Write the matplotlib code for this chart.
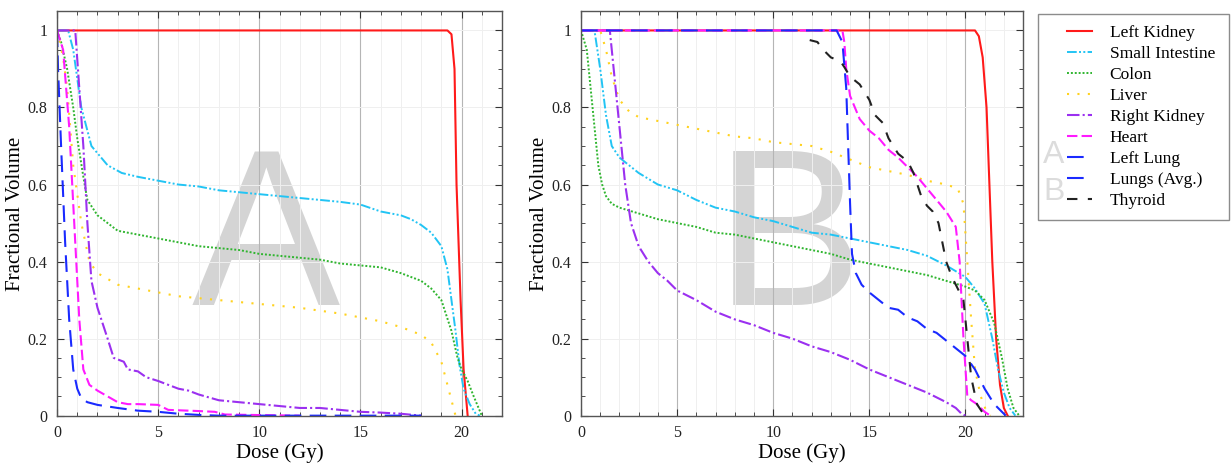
import numpy as np
import matplotlib
matplotlib.use("Agg")
import matplotlib.pyplot as plt
from matplotlib.ticker import MultipleLocator, FuncFormatter
from matplotlib.patches import Rectangle

plt.rcParams['font.family'] = ['Liberation Serif', 'DejaVu Serif']

# ---- Panel A (dose in Gy, fractional volume) ----
a_kidney_l_x = [0, 19.3, 19.5, 19.65, 19.75, 19.95, 20.1, 20.3]
a_kidney_l_y = [1, 1, 0.99, 0.9, 0.6, 0.3, 0.12, 0]

a_intest_x = [0, 0.55, 0.8, 1.2, 1.7, 2.5, 3.2, 4, 5, 6, 7, 8, 9, 10, 11, 12, 13, 14, 15, 16, 17,
              17.5, 18, 18.5, 19, 19.3, 19.5, 19.7, 19.9, 20.1, 20.4, 20.7, 20.9]
a_intest_y = [1, 1, 0.95, 0.8, 0.7, 0.65, 0.63, 0.62, 0.61, 0.6, 0.595, 0.585, 0.58, 0.575, 0.57,
              0.565, 0.56, 0.555, 0.548, 0.53, 0.52, 0.51, 0.495, 0.475, 0.44, 0.38, 0.3, 0.22,
              0.13, 0.07, 0.03, 0.005, 0]

a_colon_x = [0, 0.2, 0.5, 0.8, 1.0, 1.3, 1.5, 2, 2.5, 3, 4, 5, 6, 7, 8, 9, 10, 11, 12, 13, 14, 15,
             16, 17, 18, 18.5, 19, 19.5, 19.8, 20, 20.3, 20.6, 21]
a_colon_y = [1, 0.97, 0.9, 0.8, 0.72, 0.62, 0.56, 0.52, 0.5, 0.48, 0.47, 0.46, 0.45, 0.44, 0.435,
             0.43, 0.42, 0.415, 0.41, 0.405, 0.395, 0.39, 0.385, 0.37, 0.35, 0.33, 0.3, 0.22, 0.15,
             0.12, 0.09, 0.05, 0]

a_liver_x = [0, 0.3, 0.5, 0.8, 1.2, 1.6, 2, 3, 4, 5, 6, 7, 8, 9, 10, 12, 14, 15, 16, 17, 18, 18.5,
             19, 19.3, 19.6, 19.7]
a_liver_y = [1, 0.93, 0.85, 0.65, 0.5, 0.4, 0.37, 0.34, 0.33, 0.32, 0.31, 0.305, 0.3, 0.295, 0.29,
             0.28, 0.265, 0.255, 0.245, 0.23, 0.21, 0.19, 0.14, 0.08, 0.02, 0]

a_kidney_r_x = [0, 0.9, 1.1, 1.3, 1.5, 1.7, 2, 2.5, 2.8, 3.3, 3.5, 4, 4.4, 5, 5.5, 6, 6.5, 7, 8, 9,
                10, 11, 12, 13, 14, 15, 16, 17, 18]
a_kidney_r_y = [1, 1, 0.85, 0.7, 0.5, 0.35, 0.28, 0.2, 0.15, 0.14, 0.12, 0.115, 0.1, 0.09, 0.08,
                0.07, 0.065, 0.055, 0.04, 0.035, 0.03, 0.025, 0.02, 0.02, 0.015, 0.01, 0.008, 0.005, 0]

a_heart_x = [0, 0.3, 0.6, 0.9, 1.1, 1.3, 1.6, 2, 2.5, 3, 3.5, 4, 5, 5.5, 7, 7.8, 8.3, 12]
a_heart_y = [1, 0.95, 0.75, 0.45, 0.25, 0.12, 0.08, 0.065, 0.05, 0.035, 0.03, 0.03, 0.028, 0.015,
             0.012, 0.01, 0.003, 0]

a_lung_x = [0, 0.05, 0.2, 0.4, 0.6, 0.8, 1, 1.2, 1.5, 2, 3, 4, 5, 6, 7, 8, 18]
a_lung_y = [1, 0.9, 0.7, 0.45, 0.25, 0.12, 0.07, 0.045, 0.035, 0.028, 0.02, 0.013, 0.01, 0.005,
            0.002, 0, 0]

# ---- Panel B ----
b_kidney_l_x = [0, 20.5, 20.7, 20.9, 21.1, 21.25, 21.4, 21.6, 21.8, 22, 22.2]
b_kidney_l_y = [1, 1, 0.985, 0.93, 0.8, 0.6, 0.4, 0.2, 0.08, 0.02, 0]

b_intest_x = [0, 0.7, 1, 1.3, 1.6, 2, 3, 4, 5, 6, 7, 8, 9, 10, 11, 12, 13, 14, 15, 16, 17, 18, 19,
              19.5, 20, 20.5, 21, 21.4, 21.7, 22, 22.3, 22.6]
b_intest_y = [1, 1, 0.9, 0.78, 0.7, 0.67, 0.63, 0.6, 0.585, 0.56, 0.54, 0.53, 0.515, 0.505, 0.49,
              0.475, 0.47, 0.46, 0.45, 0.44, 0.43, 0.415, 0.39, 0.375, 0.36, 0.33, 0.29, 0.2, 0.12,
              0.06, 0.02, 0]

b_colon_x = [0, 0.3, 0.5, 0.7, 0.9, 1.1, 1.3, 1.6, 2, 3, 4, 5, 6, 7, 8, 9, 10, 11, 12, 13, 14, 15,
             16, 17, 18, 19, 20, 20.5, 21, 21.5, 21.9, 22.2, 22.5, 22.8]
b_colon_y = [1, 0.95, 0.85, 0.75, 0.65, 0.6, 0.57, 0.55, 0.54, 0.525, 0.51, 0.5, 0.49, 0.475, 0.47,
             0.46, 0.45, 0.44, 0.43, 0.42, 0.405, 0.395, 0.385, 0.375, 0.365, 0.35, 0.335, 0.325,
             0.3, 0.24, 0.15, 0.07, 0.02, 0]

b_liver_x = [0, 1, 1.3, 1.6, 2, 2.5, 3, 4, 5, 6, 7, 8, 9, 10, 11, 12, 13, 14, 15, 16, 17, 18, 19,
             19.6, 19.9, 20.1, 20.3, 20.5, 20.8, 21.1, 21.3]
b_liver_y = [1, 1, 0.95, 0.88, 0.82, 0.79, 0.775, 0.765, 0.755, 0.745, 0.735, 0.725, 0.72, 0.71,
             0.705, 0.7, 0.685, 0.665, 0.645, 0.635, 0.625, 0.61, 0.6, 0.59, 0.55, 0.4, 0.25, 0.12,
             0.05, 0.01, 0]

b_kidney_r_x = [0, 1.5, 1.7, 2, 2.3, 2.6, 3, 3.5, 4, 4.5, 5, 6, 7, 8, 9, 10, 11, 12, 13, 14, 15, 16,
                17, 18, 19, 19.5, 19.8, 20]
b_kidney_r_y = [1, 1, 0.9, 0.75, 0.6, 0.5, 0.44, 0.4, 0.37, 0.35, 0.325, 0.3, 0.27, 0.25, 0.235,
                0.215, 0.2, 0.18, 0.165, 0.145, 0.12, 0.1, 0.08, 0.06, 0.035, 0.02, 0.005, 0]

b_heart_x = [0, 13.6, 13.7, 13.8, 14, 14.5, 15, 15.5, 16, 16.5, 17, 17.5, 18, 18.5, 19, 19.5, 19.7,
             19.9, 20.1, 20.3, 20.6, 21, 21.3]
b_heart_y = [1, 1, 0.97, 0.9, 0.83, 0.77, 0.74, 0.72, 0.69, 0.67, 0.645, 0.62, 0.59, 0.56, 0.53,
             0.49, 0.4, 0.2, 0.05, 0.04, 0.03, 0.01, 0]

b_lungs_x = [0, 13.3, 13.6, 13.8, 13.9, 14, 14.1, 14.3, 14.6, 15, 15.5, 16, 16.5, 17, 17.5, 18, 18.5,
             19, 19.5, 20, 20.5, 21, 21.5, 22, 22.1]
b_lungs_y = [1, 1, 0.97, 0.85, 0.7, 0.55, 0.42, 0.37, 0.34, 0.32, 0.3, 0.28, 0.275, 0.255, 0.245,
             0.225, 0.215, 0.195, 0.175, 0.155, 0.12, 0.07, 0.03, 0.005, 0]

b_thyroid_x = [11.9, 12.3, 12.6, 13, 13.5, 13.7, 14, 14.5, 15, 15.3, 15.7, 16, 16.5, 17, 17.3, 17.7,
               18, 18.3, 18.6, 18.8, 19, 19.3, 19.6, 19.9, 20.1, 20.3, 20.6, 21]
b_thyroid_y = [0.975, 0.97, 0.95, 0.93, 0.92, 0.905, 0.88, 0.86, 0.82, 0.78, 0.76, 0.72, 0.68, 0.66,
               0.63, 0.57, 0.545, 0.53, 0.5, 0.45, 0.4, 0.36, 0.33, 0.3, 0.2, 0.1, 0.03, 0]

# line styles per structure
st = {
    'Left Kidney': dict(color='#ff1a1a', ls='-', lw=1.5),
    'Small Intestine': dict(color='#22c4f4', ls=(0, (5, 1.2, 1, 1.2, 1, 1.2)), lw=1.4),
    'Colon': dict(color='#2fb52f', ls=(0, (1, 1)), lw=1.4),
    'Liver': dict(color='#ffd21f', ls=(0, (1, 4)), lw=1.5),
    'Right Kidney': dict(color='#9b30f0', ls=(0, (6, 1.5, 1, 1.5)), lw=1.5),
    'Heart': dict(color='#ff1aff', ls=(0, (5, 2)), lw=1.5),
    'Left Lung': dict(color='#1a2aff', ls=(0, (8, 4)), lw=1.5),
    'Lungs (Avg.)': dict(color='#1a2aff', ls=(0, (8, 4)), lw=1.5),
    'Thyroid': dict(color='#222222', ls=(0, (5, 5)), lw=1.5),
}

W, H = 1232, 466
fig = plt.figure(figsize=(W / 100, H / 100), dpi=100)
axA = fig.add_axes([0.0463, 0.108, 0.3612, 0.868])
axB = fig.add_axes([0.4716, 0.108, 0.3588, 0.868])


def style_axes(ax, xmax, letter, lx):
    ax.set_xlim(0, xmax)
    ax.set_ylim(0, 1.05)
    ax.xaxis.set_major_locator(MultipleLocator(5))
    ax.xaxis.set_minor_locator(MultipleLocator(1))
    ax.yaxis.set_major_locator(MultipleLocator(0.2))
    ax.yaxis.set_minor_locator(MultipleLocator(0.05))
    ax.yaxis.set_major_formatter(FuncFormatter(lambda v, p: '%g' % round(v, 2)))
    ax.grid(which='minor', axis='x', color='#efefef', lw=0.7)
    ax.grid(which='major', axis='x', color='#b5b5b5', lw=0.8)
    ax.grid(which='major', axis='y', color='#efefef', lw=0.7)
    ax.set_axisbelow(True)
    ax.tick_params(which='both', direction='in', top=True, right=True, labelsize=11.5,
                   colors='#333333', labelcolor='#222222', pad=7)
    ax.tick_params(which='major', length=5)
    ax.tick_params(which='minor', length=3)
    for s in ax.spines.values():
        s.set_color('#555555')
        s.set_linewidth(1.0)
    ax.set_xlabel('Dose (Gy)', fontsize=15, labelpad=1)
    ax.set_ylabel('Fractional Volume', fontsize=15, labelpad=2)
    ax.text(lx, 0.2875, letter, fontsize=160, family='Liberation Sans', color='#d4d4d4',
            ha='center', va='baseline', zorder=0.5)


style_axes(axA, 22, 'A', 10.3)
style_axes(axB, 23, 'B', 10.8)

axA.plot(a_kidney_l_x, a_kidney_l_y, label='Left Kidney', **st['Left Kidney'])
axA.plot(a_intest_x, a_intest_y, label='Small Intestine', **st['Small Intestine'])
axA.plot(a_colon_x, a_colon_y, label='Colon', **st['Colon'])
axA.plot(a_liver_x, a_liver_y, label='Liver', **st['Liver'])
axA.plot(a_kidney_r_x, a_kidney_r_y, label='Right Kidney', **st['Right Kidney'])
axA.plot(a_heart_x, a_heart_y, label='Heart', **st['Heart'])
axA.plot(a_lung_x, a_lung_y, label='Left Lung', **st['Left Lung'])

axB.plot(b_kidney_l_x, b_kidney_l_y, **st['Left Kidney'])
axB.plot(b_intest_x, b_intest_y, **st['Small Intestine'])
axB.plot(b_colon_x, b_colon_y, **st['Colon'])
axB.plot(b_liver_x, b_liver_y, **st['Liver'])
axB.plot(b_kidney_r_x, b_kidney_r_y, **st['Right Kidney'])
axB.plot(b_heart_x, b_heart_y, **st['Heart'])
l1, = axB.plot(b_lungs_x, b_lungs_y, label='Lungs (Avg.)', **st['Lungs (Avg.)'])
l2, = axB.plot(b_thyroid_x, b_thyroid_y, label='Thyroid', **st['Thyroid'])

handles, labels = axA.get_legend_handles_labels()
handles += [l1, l2]
labels += ['Lungs (Avg.)', 'Thyroid']

# legend frame drawn separately (wide left margin in the original)
fig.patches.append(Rectangle((1038 / W, 1 - 220 / H), 191 / W, 206 / H, transform=fig.transFigure,
                             fill=False, edgecolor='#8c8c8c', lw=1.0))

# letters sitting in the legend area
fig.text(1043 / W, 1 - 163 / H, 'A', fontsize=23, family='Liberation Sans', color='#dcdcdc')
fig.text(1043 / W, 1 - 200 / H, 'B', fontsize=23, family='Liberation Sans', color='#dcdcdc')

leg = fig.legend(handles, labels, loc='upper left', bbox_to_anchor=(1067 / W, 1 - 25 / H),
                 fontsize=12.5, frameon=False, handlelength=1.45, handletextpad=1.0,
                 borderpad=0, borderaxespad=0, labelspacing=0.28)

fig.savefig('out.png', dpi=100)
